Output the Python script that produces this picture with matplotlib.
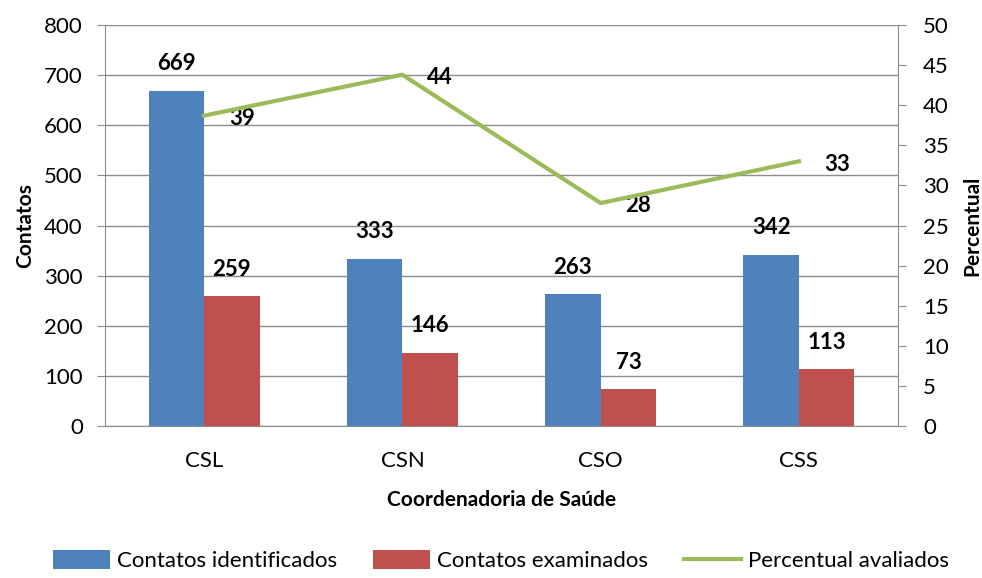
import matplotlib
matplotlib.use("Agg")
import matplotlib.pyplot as plt
import numpy as np

categories = ["CSL", "CSN", "CSO", "CSS"]
identificados = [669, 333, 263, 342]
examinados = [259, 146, 73, 113]
percentual = [38.7, 43.8, 27.8, 33.0]

plt.rcParams['font.family'] = ['Lato', 'DejaVu Sans']

fig = plt.figure(figsize=(9.82, 5.78), dpi=100)
L, R, T, B = 105, 898, 25, 426
ax = fig.add_axes([L/982, 1-B/578, (R-L)/982, (B-T)/578])
ax2 = ax.twinx()

blue = "#4F81BD"
red = "#C0504D"
green = "#9BBB59"
grid = "#8C8C8C"

x = np.arange(len(categories))
w = 0.28
b1 = ax.bar(x - w/2, identificados, w, color=blue, label="Contatos identificados", zorder=3)
b2 = ax.bar(x + w/2, examinados, w, color=red, label="Contatos examinados", zorder=3)
ln, = ax2.plot(x, percentual, color=green, lw=3, label="Percentual avaliados", zorder=4)

for xi, v in zip(x, identificados):
    ax.annotate(str(v), (xi - w/2, v), xytext=(0, 12), textcoords="offset points",
                ha="center", va="bottom", fontsize=16, fontweight="bold")
for xi, v in zip(x, examinados):
    ax.annotate(str(v), (xi + w/2, v), xytext=(0, 12), textcoords="offset points",
                ha="center", va="bottom", fontsize=16, fontweight="bold")
for xi, v in zip(x, percentual):
    ax2.annotate(f"{v:.0f}", (xi, v), xytext=(18, -2), textcoords="offset points",
                 ha="left", va="center", fontsize=16, fontweight="bold")

ax.set_xlim(-0.5, 3.5)
ax.set_ylim(0, 800)
ax.set_yticks(np.arange(0, 801, 100))
ax2.set_ylim(0, 50)
ax2.set_yticks(np.arange(0, 51, 5))
ax.set_xticks(x)
ax.set_xticklabels(categories)

ax.yaxis.grid(True, color=grid, lw=1, zorder=0)
ax.set_axisbelow(True)
for a in (ax, ax2):
    a.spines["top"].set_visible(False)
    a.spines["left"].set_color(grid)
    a.spines["right"].set_color(grid)
    a.spines["bottom"].set_color(grid)
ax2.spines["left"].set_visible(False)
ax2.spines["bottom"].set_visible(False)
ax.spines["right"].set_visible(False)

ax.tick_params(axis="y", length=6, color=grid, labelsize=16, pad=10)
ax2.tick_params(axis="y", length=6, color=grid, labelsize=16, pad=12)
ax.tick_params(axis="x", length=0, labelsize=16, pad=18)

ax.set_ylabel("Contatos", fontsize=15, fontweight="bold", labelpad=6)
ax2.set_ylabel("Percentual", fontsize=15, fontweight="bold", labelpad=10)
ax.set_xlabel("Coordenadoria de Saúde", fontsize=15, fontweight="bold", labelpad=14)

fig.legend(handles=[b1, b2, ln], loc="center", bbox_to_anchor=(0.51, 0.03), ncol=3,
           frameon=False, fontsize=16, handlelength=2.6, handleheight=0.9,
           columnspacing=1.6, handletextpad=0.3)

fig.savefig("out.png", dpi=100)
